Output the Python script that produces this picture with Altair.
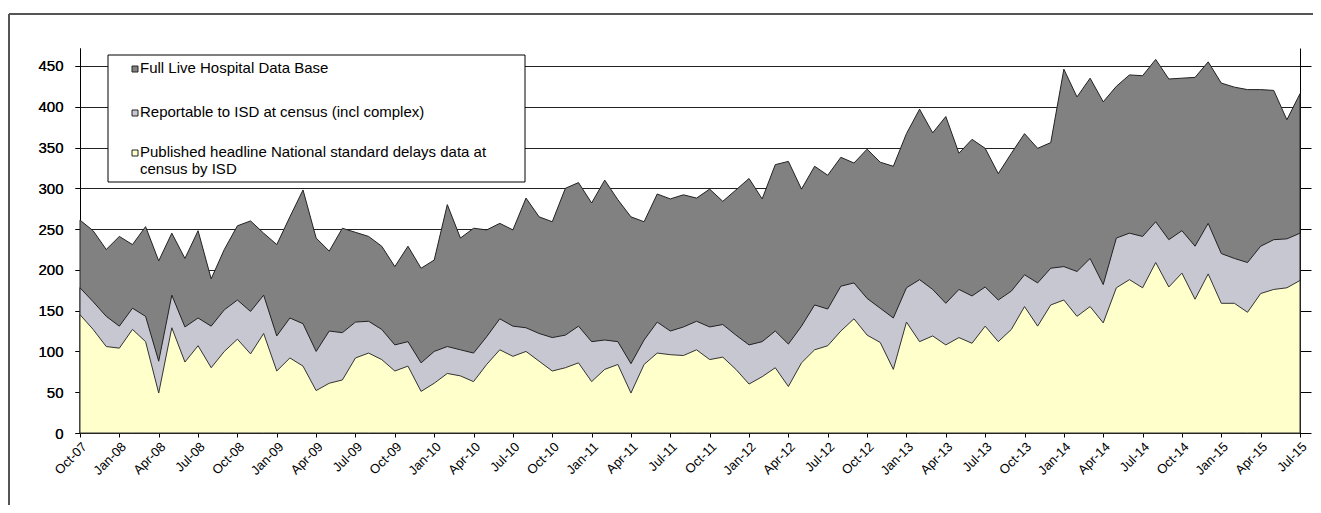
import altair as alt
import pandas as pd

# Month labels (Oct-07 .. Jul-15)
mnames = ["Jan", "Feb", "Mar", "Apr", "May", "Jun", "Jul", "Aug", "Sep", "Oct", "Nov", "Dec"]
months = []
y, m = 2007, 9
while (y, m) <= (2015, 6):
    months.append(f"{mnames[m]}-{str(y)[2:]}")
    m += 1
    if m == 12:
        m = 0
        y += 1

full_live = [261, 248, 225, 241, 231, 253, 211, 245, 214, 248, 189, 225,
             254, 260, 245, 231, 265, 298, 239, 223, 251, 246, 241, 229,
             204, 229, 202, 212, 280, 239, 251, 249, 257, 249, 288, 265,
             259, 300, 307, 282, 310, 286, 265, 259, 293, 287, 292, 288,
             299, 284, 298, 312, 287, 329, 333, 299, 327, 316, 338, 331,
             348, 332, 327, 367, 397, 368, 388, 343, 360, 349, 318, 343,
             367, 349, 356, 446, 412, 435, 406, 425, 439, 438, 458, 434,
             435, 436, 455, 429, 424, 421, 421, 420, 384, 416]

reportable = [178, 161, 143, 131, 153, 143, 88, 169, 130, 141, 131, 151,
              163, 149, 169, 119, 141, 134, 100, 125, 123, 136, 137, 127,
              108, 112, 86, 100, 106, 102, 98, 118, 140, 131, 129, 122,
              117, 120, 131, 112, 114, 112, 85, 114, 136, 125, 130, 137,
              130, 133, 120, 108, 112, 125, 109, 131, 157, 152, 180, 184,
              165, 153, 141, 178, 188, 176, 159, 176, 168, 179, 163, 174,
              194, 184, 202, 204, 198, 214, 182, 239, 245, 241, 259, 237,
              248, 229, 257, 220, 214, 209, 229, 237, 238, 245]

published = [145, 127, 106, 104, 127, 112, 49, 129, 87, 107, 80, 100,
             115, 97, 122, 76, 92, 82, 52, 61, 65, 92, 98, 90,
             76, 82, 51, 61, 73, 70, 63, 84, 102, 94, 100, 88,
             76, 80, 86, 63, 78, 84, 49, 84, 98, 96, 95, 102,
             90, 93, 78, 60, 69, 80, 57, 86, 102, 107, 125, 140,
             120, 111, 78, 136, 112, 119, 108, 117, 110, 131, 112, 127,
             155, 131, 157, 163, 143, 155, 135, 178, 188, 178, 209, 179,
             196, 164, 195, 159, 159, 148, 171, 176, 178, 187]

legend_labels = [
    "Full Live Hospital Data Base",
    "Reportable to ISD  at census (incl complex)",
    "Published headline National standard delays  data at\ncensus by  ISD",
]
y_ticks = [0, 50, 100, 150, 200, 250, 300, 350, 400, 450]

colors = ["#818181", "#c7c7d1", "#ffffcc"]
FONT = "Liberation Sans"

df = pd.DataFrame({"month": months, "full": full_live,
                   "reportable": reportable, "published": published})

W, H = 1220, 385
yscale = alt.Scale(domain=[0, 472], nice=False, zero=True)
xscale = alt.Scale(type="point", padding=0)

x_axis = alt.Axis(values=months[::3], labelAngle=-45, labelFontSize=13,
                  labelFont=FONT, labelColor="black", tickSize=4,
                  tickColor="black", domainColor="black", labelPadding=3,
                  grid=False, title=None, labelOverlap=False)

left_axis = alt.Axis(values=y_ticks, grid=True, gridColor="#222", gridWidth=1,
                     tickSize=5, tickColor="black", domainColor="black",
                     labelFontSize=15, labelFont=FONT, labelColor="black",
                     labelPadding=12, title=None, orient="left")
right_axis = alt.Axis(values=y_ticks, grid=False, labels=False, tickSize=11,
                      tickColor="black", domainColor="black", title=None,
                      orient="right")

base = alt.Chart(df)
xenc = alt.X("month:O", sort=None, scale=xscale, axis=x_axis)

a_full = base.mark_area(fill=colors[0], stroke="#222", strokeWidth=1).encode(
    x=xenc,
    y=alt.Y("full:Q", scale=yscale, axis=left_axis),
)
a_rep = base.mark_area(fill=colors[1], stroke="#222", strokeWidth=1).encode(
    x=xenc,
    y=alt.Y("reportable:Q", scale=yscale, axis=right_axis),
)
a_pub = base.mark_area(fill=colors[2], stroke="#333", strokeWidth=1).encode(
    x=xenc,
    y=alt.Y("published:Q", scale=yscale, axis=left_axis),
)

one = alt.Data(values=[{}])

# legend box
leg_box = alt.Chart(one).mark_rect(fill="white", stroke="black", strokeWidth=1).encode(
    x=alt.value(28), x2=alt.value(445), y=alt.value(7), y2=alt.value(134))

leg_layers = [leg_box]
rows_y = [21, 65, 105]
for i, lab in enumerate(legend_labels):
    sw = alt.Chart(one).mark_rect(fill=colors[i], stroke="#222", strokeWidth=1).encode(
        x=alt.value(52), x2=alt.value(58), y=alt.value(rows_y[i] - 3), y2=alt.value(rows_y[i] + 3))
    tx = alt.Chart(one).mark_text(align="left", baseline="top", fontSize=15, font=FONT,
                                  color="black", lineBreak="\n", lineHeight=17).encode(
        x=alt.value(60), y=alt.value(rows_y[i] - 8), text=alt.value(lab))
    leg_layers += [sw, tx]

# outer frame (top and left edges)
frame_top = alt.Chart(one).mark_rule(color="#555", strokeWidth=2).encode(
    x=alt.value(-71), x2=alt.value(1245), y=alt.value(-34))
frame_left = alt.Chart(one).mark_rule(color="#555", strokeWidth=2).encode(
    x=alt.value(-71), y=alt.value(-34), y2=alt.value(470))

chart = alt.layer(a_full, a_rep, a_pub, *leg_layers, frame_top, frame_left).resolve_axis(
    y="independent"
).properties(
    width=W, height=H,
    autosize=alt.AutoSizeParams(type="none"),
    padding={"left": 72, "top": 40, "right": 13, "bottom": 72},
    background="white",
).configure_view(stroke=None)

chart.save("out.html", embed_options={"renderer": "svg", "actions": False})
